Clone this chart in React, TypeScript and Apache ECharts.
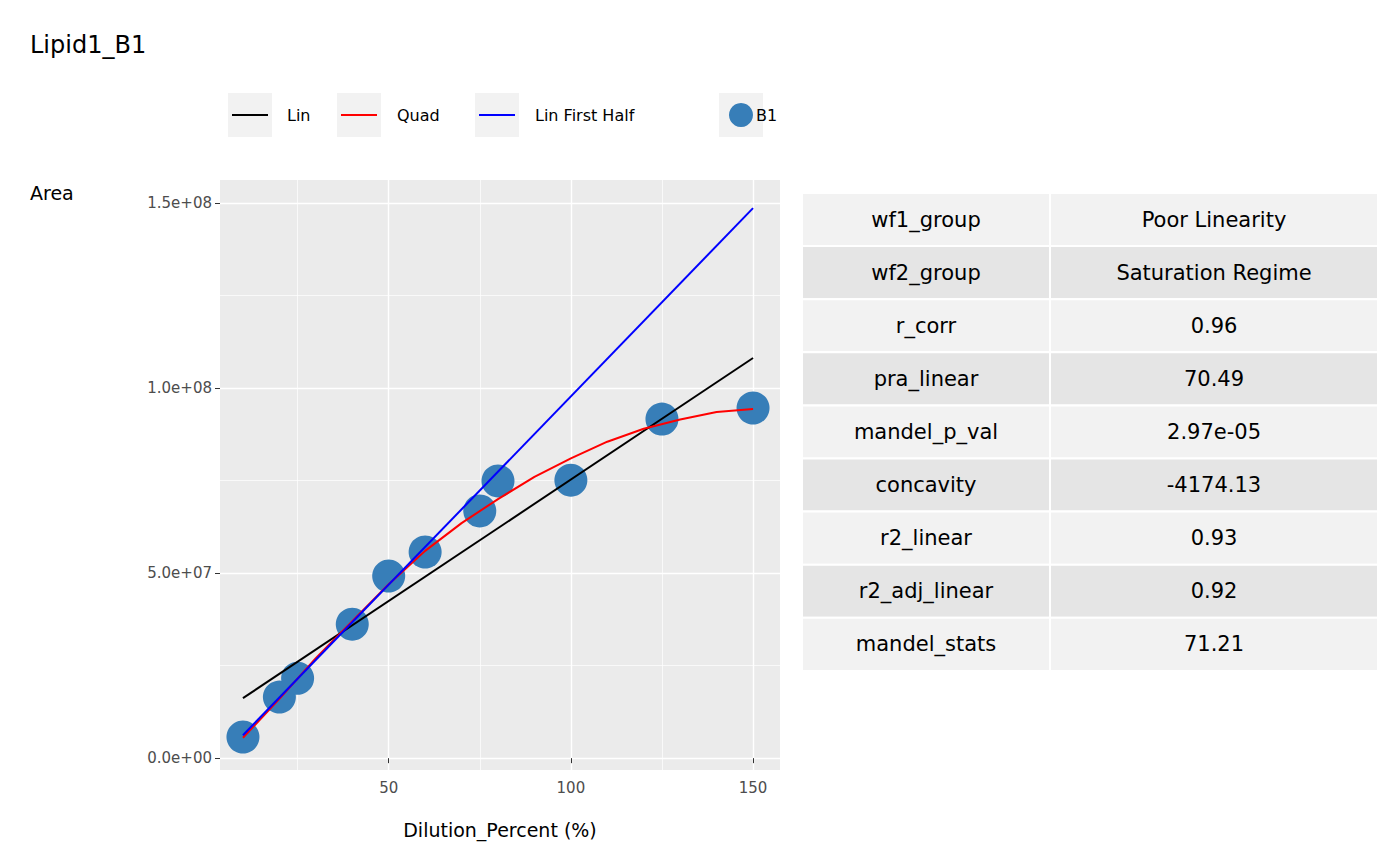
import { useEffect, useRef } from 'react';
import * as echarts from 'echarts';

const pointX = [10, 20, 25, 40, 50, 60, 75, 80, 100, 125, 150];
const pointY = [5.7e6, 16.5e6, 21.6e6, 36.2e6, 49.2e6, 55.7e6, 66.8e6, 74.9e6, 75.1e6, 91.6e6, 94.6e6];
const linX = [10, 150];
const linY = [16.2e6, 108.1e6];
const halfX = [10, 150];
const halfY = [6.2e6, 148.6e6];
const quadX = [10, 20, 30, 40, 50, 60, 70, 80, 90, 100, 110, 120, 130, 140, 150];
const quadY = [5.5e6, 16e6, 27e6, 37e6, 47e6, 56e6, 63.5e6, 70e6, 76e6, 81e6, 85.5e6, 89e6, 91.5e6, 93.5e6, 94.3e6];
const xMajor = [50, 100, 150];
const xMinor = [25, 75, 125];
const yMajor = [0, 5e7, 1e8, 1.5e8];
const yMinor = [2.5e7, 7.5e7, 1.25e8];
const tableKeys = ['wf1_group', 'wf2_group', 'r_corr', 'pra_linear', 'mandel_p_val', 'concavity', 'r2_linear', 'r2_adj_linear', 'mandel_stats'];
const tableVals = ['Poor Linearity', 'Saturation Regime', '0.96', '70.49', '2.97e-05', '-4174.13', '0.93', '0.92', '71.21'];
const legendItems = ['Lin', 'Quad', 'Lin First Half', 'B1'];
const legendColors = ['#000000', '#ff0000', '#0000ff', '#377eb8'];

const FONT = 'DejaVu Sans';
const zip = (xs: number[], ys: number[]) => xs.map((x, i) => [x, ys[i]]);

function fmtSci(v: number) {
  if (v === 0) return '0.0e+00';
  const e = Math.floor(Math.log10(Math.abs(v)));
  const m = v / Math.pow(10, e);
  return `${m.toFixed(1)}e+${String(e).padStart(2, '0')}`;
}

const txt = (x: number, y: number, text: string, size: number, extra: any = {}) => ({
  type: 'text', x, y, z: 10,
  style: { text, fontSize: size, fontFamily: FONT, fill: '#000', verticalAlign: 'middle', ...extra },
});

export default function App() {
  const el = useRef<HTMLDivElement>(null);

  useEffect(() => {
    if (!el.current) return;
    const chart = echarts.init(el.current, null, { renderer: 'svg' });

    const graphic: any[] = [
      txt(30, 45, 'Lipid1_B1', 24),
      txt(30, 193, 'Area', 19),
    ];

    // legend keys
    const keyX = [228, 337, 475, 719];
    const textX = [287, 397, 535, 756];
    legendItems.forEach((name, i) => {
      graphic.push({ type: 'rect', shape: { x: keyX[i], y: 93, width: 44, height: 44 }, style: { fill: '#f2f2f2' } });
      if (i < 3) {
        graphic.push({ type: 'line', shape: { x1: keyX[i] + 4, y1: 115, x2: keyX[i] + 40, y2: 115 }, style: { stroke: legendColors[i], lineWidth: 2 } });
      } else {
        graphic.push({ type: 'circle', shape: { cx: keyX[i] + 22, cy: 115, r: 12 }, style: { fill: legendColors[i] } });
      }
      graphic.push(txt(textX[i], 115, name, 16));
    });

    // table
    const tx = 802, tw1 = 248, tw2 = 328, ty = 193, rh = 53.1;
    tableKeys.forEach((k, i) => {
      const fill = i % 2 === 0 ? '#f2f2f2' : '#e5e5e5';
      const y = ty + i * rh;
      graphic.push({ type: 'rect', shape: { x: tx, y, width: tw1, height: rh }, style: { fill, stroke: '#fff', lineWidth: 2 } });
      graphic.push({ type: 'rect', shape: { x: tx + tw1, y, width: tw2, height: rh }, style: { fill, stroke: '#fff', lineWidth: 2 } });
      graphic.push(txt(tx + tw1 / 2, y + rh / 2, k, 21, { align: 'center' }));
      graphic.push(txt(tx + tw1 + tw2 / 2, y + rh / 2, tableVals[i], 21, { align: 'center' }));
    });

    const vline = (v: number, w: number) => ({ xAxis: v, lineStyle: { color: '#fff', width: w, type: 'solid' } });
    const hline = (v: number, w: number) => ({ yAxis: v, lineStyle: { color: '#fff', width: w, type: 'solid' } });

    chart.setOption({
      animation: false,
      textStyle: { fontFamily: FONT },
      graphic,
      grid: { left: 220, right: 620, top: 180, bottom: 95, show: true, backgroundColor: '#ebebeb', borderWidth: 0 },
      xAxis: {
        type: 'value', min: 3.7, max: 157.4,
        name: 'Dilution_Percent (%)', nameLocation: 'middle', nameGap: 50,
        nameTextStyle: { fontSize: 19, color: '#000', fontFamily: FONT },
        splitLine: { show: false },
        axisLine: { show: false },
        axisTick: { show: true, customValues: xMajor, length: 5, lineStyle: { color: '#333' } },
        axisLabel: { customValues: xMajor, fontSize: 15, color: '#4d4d4d', margin: 10 },
      },
      yAxis: {
        type: 'value', min: -3.2e6, max: 156.2e6,
        splitLine: { show: false },
        axisLine: { show: false },
        axisTick: { show: true, customValues: yMajor, length: 5, lineStyle: { color: '#333' } },
        axisLabel: { customValues: yMajor, fontSize: 15, color: '#4d4d4d', margin: 8, formatter: fmtSci },
      },
      series: [
        {
          type: 'line', data: [], silent: true, z: 0,
          markLine: {
            silent: true, symbol: 'none', label: { show: false }, animation: false, z: 0,
            data: [
              ...xMinor.map((v) => vline(v, 0.7)), ...xMajor.map((v) => vline(v, 1.4)),
              ...yMinor.map((v) => hline(v, 0.7)), ...yMajor.map((v) => hline(v, 1.4)),
            ],
          },
        },
        { name: 'B1', type: 'scatter', data: zip(pointX, pointY), symbolSize: 33, itemStyle: { color: '#377eb8', opacity: 1 }, z: 5 },
        { name: 'Lin', type: 'line', data: zip(linX, linY), showSymbol: false, lineStyle: { color: '#000', width: 2 }, z: 6 },
        { name: 'Quad', type: 'line', data: zip(quadX, quadY), showSymbol: false, lineStyle: { color: '#ff0000', width: 2 }, z: 6 },
        { name: 'Lin First Half', type: 'line', data: zip(halfX, halfY), showSymbol: false, lineStyle: { color: '#0000ff', width: 2 }, z: 6 },
      ],
    });
    return () => chart.dispose();
  }, []);

  return <div ref={el} style={{ width: 1400, height: 865, position: 'absolute', left: 0, top: 0 }} />;
}
